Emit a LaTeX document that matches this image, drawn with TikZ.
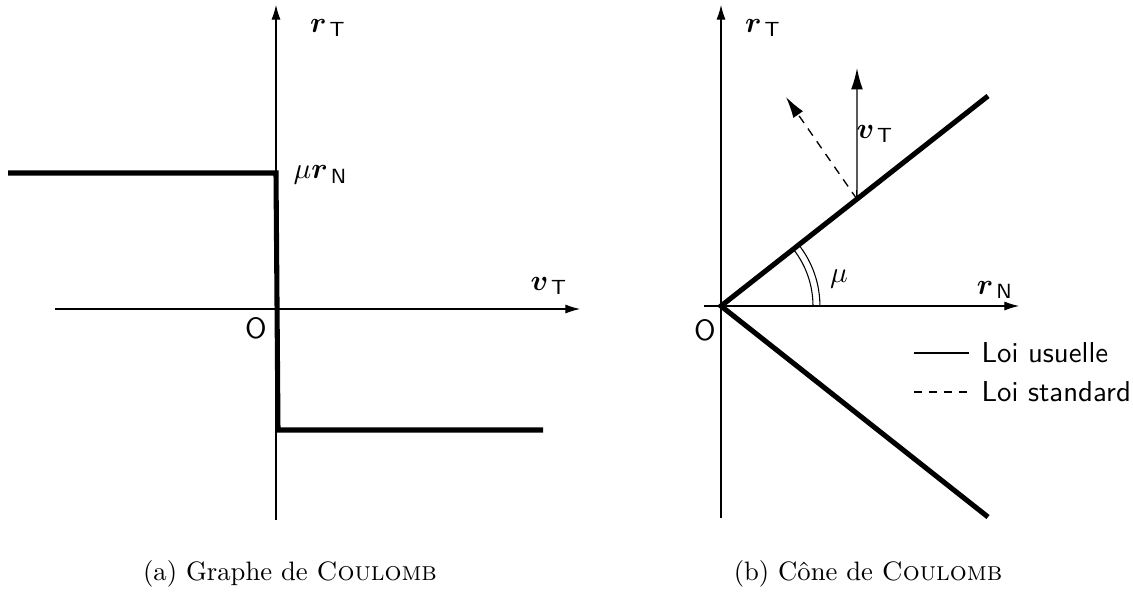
\documentclass[tikz,border=0pt]{standalone}
\usepackage{amsmath,bm}
\usetikzlibrary{arrows.meta,calc}
\tikzset{
  axis/.style={line width=0.4pt,-{Latex[length=5.5pt,width=3.4pt]}},
  thickline/.style={line width=1.9pt,line join=miter},
  vec/.style={line width=0.5pt,-{Latex[length=8pt,width=4.4pt]}},
  dvec/.style={vec,dash pattern=on 3.2pt off 2.6pt},
  lbl/.style={inner sep=0pt,scale=1.1},
  leg/.style={inner sep=0pt,anchor=west,font=\sffamily,scale=1.08},
}
\begin{document}
\begin{tikzpicture}[x=0.375pt,y=-0.375pt]
\useasboundingbox (0,0) rectangle (1133,599);
% ---------- left panel ----------
\coordinate (ya0) at (276,520);
\coordinate (ya1) at (276,5);
\coordinate (xa0) at (55,309);
\coordinate (xa1) at (580,309);
\draw[axis] (ya0) -- (ya1);
\draw[axis] (xa0) -- (xa1);
\coordinate (p1) at (8,173);
\coordinate (p2) at (276,173);
\coordinate (p3) at (278,430);
\coordinate (p4) at (543,430);
\draw[thickline] (p1) -- (p2) -- (p3) -- (p4);
\node[lbl] (la) at (328,28) {$\boldsymbol{r}_{\,\mathsf{T}}$};
\node[lbl,anchor=west] (lmu) at (293,175) {$\mu\boldsymbol{r}_{\,\mathsf{N}}$};
\node[lbl] (lv) at (549,286) {$\boldsymbol{v}_{\,\mathsf{T}}$};
\node[lbl] (lo) at (256,328) {\textsf{O}};
\node[inner sep=0pt] (capa) at (290,574) {(a) Graphe de \textsc{Coulomb}};
% ---------- right panel ----------
\coordinate (yb0) at (721,518);
\coordinate (yb1) at (721,5);
\coordinate (xb0) at (704,306);
\coordinate (xb1) at (1019,306);
\draw[axis] (yb0) -- (yb1);
\draw[axis] (xb0) -- (xb1);
\coordinate (o) at (721,306);
\coordinate (c1) at (988,96);
\coordinate (c2) at (988,517);
\draw[thickline] (c1) -- (o) -- (c2);
\coordinate (b) at ($(o)!0.509!(c1)$);
\coordinate (vt) at (857,68);
\coordinate (dt) at (786,97);
\draw[vec] (b) -- (vt);
\draw[dvec] (b) -- (dt);
\draw[line width=0.4pt] ($(o)+(34.5pt,0)$) arc[start angle=0,end angle=38.2,radius=34.5pt];
\draw[line width=0.4pt] ($(o)+(37.1pt,0)$) arc[start angle=0,end angle=38.2,radius=37.1pt];
\node[lbl] (rb) at (763,28) {$\boldsymbol{r}_{\,\mathsf{T}}$};
\node[lbl] (vb) at (875,134) {$\boldsymbol{v}_{\,\mathsf{T}}$};
\node[lbl] (mub) at (839,279) {$\mu$};
\node[lbl] (ob) at (705,330) {\textsf{O}};
\node[lbl] (rn) at (995,290) {$\boldsymbol{r}_{\,\mathsf{N}}$};
\coordinate (l1a) at (914,353);
\coordinate (l1b) at (969,353);
\coordinate (l2a) at (914,392);
\coordinate (l2b) at (969,392);
\draw[line width=0.5pt] (l1a) -- (l1b);
\draw[line width=0.5pt,dash pattern=on 3pt off 2.6pt] (l2a) -- (l2b);
\node[leg] (t1) at (981,353) {Loi usuelle};
\node[leg] (t2) at (981,392) {Loi standard};
\node[inner sep=0pt] (capb) at (868,574) {(b) Cône de \textsc{Coulomb}};
\end{tikzpicture}
\end{document}
